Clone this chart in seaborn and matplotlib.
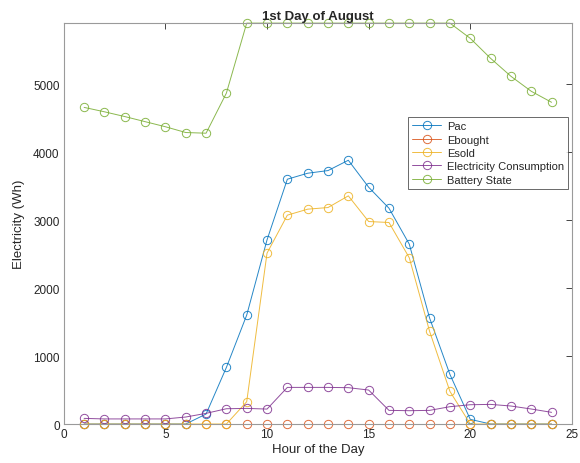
import matplotlib
matplotlib.use("Agg")
import matplotlib.pyplot as plt
import seaborn as sns
import pandas as pd

hours = list(range(1, 25))

pac = [0, 0, 0, 0, 0, 0, 147, 833, 1603, 2710, 3603, 3691, 3730, 3882,
       3485, 3176, 2647, 1559, 730, 69, 0, 0, 0, 0]
ebought = [0] * 24
esold = [0, 0, 0, 0, 0, 0, 0, 0, 328, 2515, 3074, 3162, 3186, 3358,
         2980, 2966, 2446, 1363, 480, 0, 0, 0, 0, 0]
consumption = [83, 75, 75, 75, 75, 103, 157, 225, 230, 220, 539, 539, 539, 535,
               500, 201, 196, 201, 255, 284, 289, 265, 221, 172]
battery = [4660, 4595, 4525, 4450, 4375, 4290, 4280, 4870, 5900, 5900, 5900, 5900,
           5900, 5900, 5900, 5900, 5900, 5900, 5900, 5676, 5382, 5118, 4897, 4735]

series_names = ["Pac", "Ebought", "Esold", "Electricity Consumption", "Battery State"]
series_values = [pac, ebought, esold, consumption, battery]
colors = ["#0072BD", "#D95319", "#EDB120", "#7E2F8E", "#77AC30"]

x_ticks = [0, 5, 10, 15, 20, 25]
y_ticks = [0, 1000, 2000, 3000, 4000, 5000]

sns.set_style("white")
plt.rcParams["font.family"] = ["Liberation Sans", "DejaVu Sans"]

fig = plt.figure(figsize=(5.8, 4.64), dpi=100)
ax = fig.add_axes([0.110, 0.084, 0.876, 0.864])

for name, vals, c in zip(series_names, series_values, colors):
    df = pd.DataFrame({"hour": hours, "value": vals})
    sns.lineplot(data=df, x="hour", y="value", ax=ax, color=c, linewidth=0.7,
                 marker="o", markersize=6, markerfacecolor="none",
                 markeredgecolor=c, markeredgewidth=0.7, alpha=0.85,
                 label=name, clip_on=False)

ax.set_xlim(0, 25)
ax.set_ylim(0, 5900)
ax.set_xticks(x_ticks)
ax.set_yticks(y_ticks)
ax.tick_params(direction="in", length=4, width=0.6, colors="#262626",
               labelsize=8.5, top=True, right=True, pad=3)
for sp in ax.spines.values():
    sp.set_color("#9a9a9a")
    sp.set_linewidth(0.8)
    sp.set_visible(True)

ax.set_xlabel("Hour of the Day", fontsize=9.5, color="#262626", labelpad=2)
ax.set_ylabel("Electricity (Wh)", fontsize=9.5, color="#262626", labelpad=6)
ax.set_title("1st Day of August", fontsize=9.5, fontweight="bold", pad=3)

leg = ax.legend(loc="upper left", bbox_to_anchor=(0.677, 0.766), fontsize=8,
                frameon=True, fancybox=False, handlelength=2.6,
                borderpad=0.4, labelspacing=0.3, handletextpad=0.5,
                borderaxespad=0)
leg.get_frame().set_edgecolor("#262626")
leg.get_frame().set_linewidth(0.6)

fig.savefig("out.png", dpi=100)
